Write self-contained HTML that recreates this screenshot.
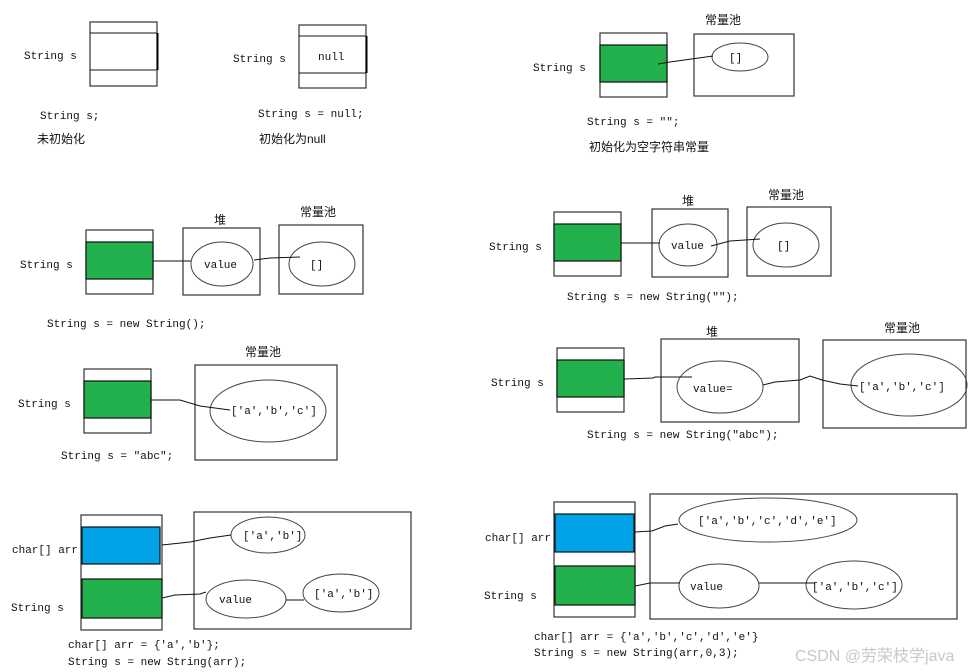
<!DOCTYPE html>
<html><head><meta charset="utf-8"><style>
html,body{margin:0;padding:0;background:#fff;}
svg{display:block;}
text{font-family:"Liberation Mono","Noto Sans CJK SC",monospace;font-size:11px;fill:#111;}
.c{font-family:"Liberation Sans","Noto Sans CJK SC",sans-serif;font-size:12px;}
.b{fill:none;stroke:#333;stroke-width:1.2;}
.l{fill:none;stroke:#111;stroke-width:1;}
.g{fill:#22b14c;stroke:#111;stroke-width:1.2;}
.u{fill:#00a2e8;stroke:#111;stroke-width:1.2;}
.e{fill:none;stroke:#444;stroke-width:1;}
</style></head><body>
<svg width="976" height="672" viewBox="0 0 976 672" xmlns="http://www.w3.org/2000/svg">
<!-- 1 -->
<rect class="b" x="90" y="22" width="67" height="64"/>
<line class="l" x1="90" y1="33" x2="157" y2="33"/><line class="l" x1="90" y1="70" x2="157" y2="70"/>
<line x1="157.5" y1="33" x2="157.5" y2="70" stroke="#000" stroke-width="2"/>
<text x="24" y="59">String s</text>
<text x="40" y="119">String s;</text>
<text class="c" x="37" y="143">未初始化</text>
<!-- 2 -->
<rect class="b" x="299" y="25" width="67" height="63"/>
<line class="l" x1="299" y1="36" x2="366" y2="36"/><line class="l" x1="299" y1="73" x2="366" y2="73"/>
<line x1="366.5" y1="36" x2="366.5" y2="73" stroke="#000" stroke-width="2"/>
<text x="318" y="60">null</text>
<text x="233" y="62">String s</text>
<text x="258" y="117">String s = null;</text>
<text class="c" x="259" y="143">初始化为null</text>
<!-- 3 -->
<rect class="b" x="600" y="33" width="67" height="64"/>
<rect class="g" x="600" y="45" width="67" height="37"/>
<text x="533" y="71">String s</text>
<rect class="b" x="694" y="34" width="100" height="62"/>
<text class="c" x="705" y="24">常量池</text>
<ellipse class="e" cx="740" cy="57" rx="28" ry="14"/>
<text x="729" y="61">[]</text>
<polyline class="l" points="658,64 670,62 713,56"/>
<text x="587" y="125">String s = "";</text>
<text class="c" x="589" y="151">初始化为空字符串常量</text>
<!-- 4 -->
<rect class="b" x="86" y="230" width="67" height="64"/>
<rect class="g" x="86" y="242" width="67" height="37"/>
<text x="20" y="268">String s</text>
<rect class="b" x="183" y="228" width="77" height="67"/>
<text class="c" x="214" y="224">堆</text>
<ellipse class="e" cx="222" cy="264" rx="31" ry="22"/>
<text x="204" y="268">value</text>
<rect class="b" x="279" y="225" width="84" height="69"/>
<text class="c" x="300" y="216">常量池</text>
<ellipse class="e" cx="322" cy="264" rx="33" ry="22"/>
<text x="310" y="268">[]</text>
<line class="l" x1="153" y1="261" x2="191" y2="261"/>
<polyline class="l" points="254,260 270,258 300,257"/>
<text x="47" y="327">String s = new String();</text>
<!-- 5 -->
<rect class="b" x="554" y="212" width="67" height="64"/>
<rect class="g" x="554" y="224" width="67" height="37"/>
<text x="489" y="250">String s</text>
<rect class="b" x="652" y="209" width="76" height="68"/>
<text class="c" x="682" y="205">堆</text>
<ellipse class="e" cx="688" cy="245" rx="29" ry="21"/>
<text x="671" y="249">value</text>
<rect class="b" x="747" y="207" width="84" height="69"/>
<text class="c" x="768" y="199">常量池</text>
<ellipse class="e" cx="786" cy="245" rx="33" ry="22"/>
<text x="777" y="249">[]</text>
<line class="l" x1="621" y1="243" x2="660" y2="243"/>
<polyline class="l" points="711,246 730,241 760,239"/>
<text x="567" y="300">String s = new String("");</text>
<!-- 6 -->
<rect class="b" x="84" y="369" width="67" height="64"/>
<rect class="g" x="84" y="381" width="67" height="37"/>
<text x="18" y="407">String s</text>
<rect class="b" x="195" y="365" width="142" height="95"/>
<text class="c" x="245" y="356">常量池</text>
<ellipse class="e" cx="268" cy="411" rx="58" ry="31"/>
<text x="231" y="414">['a','b','c']</text>
<polyline class="l" points="151,400 180,400 200,406 230,410"/>
<text x="61" y="459">String s = "abc";</text>
<!-- 7 -->
<rect class="b" x="557" y="348" width="67" height="64"/>
<rect class="g" x="557" y="360" width="67" height="37"/>
<text x="491" y="386">String s</text>
<rect class="b" x="661" y="339" width="138" height="83"/>
<text class="c" x="706" y="336">堆</text>
<ellipse class="e" cx="720" cy="387" rx="43" ry="26"/>
<text x="693" y="392">value=</text>
<rect class="b" x="823" y="340" width="143" height="88"/>
<text class="c" x="884" y="332">常量池</text>
<ellipse class="e" cx="909" cy="385" rx="58" ry="31"/>
<text x="859" y="390">['a','b','c']</text>
<polyline class="l" points="624,379 653,378 655,377 692,377"/>
<polyline class="l" points="763,385 775,382 800,380 810,376 822,380 840,384 858,386"/>
<text x="587" y="438">String s = new String("abc");</text>
<!-- 8 -->
<rect class="b" x="81" y="515" width="81" height="115"/>
<rect class="u" x="82" y="527" width="78" height="37"/>
<rect class="g" x="82" y="579" width="80" height="39"/>
<text x="12" y="553">char[] arr</text>
<text x="11" y="611">String s</text>
<rect class="b" x="194" y="512" width="217" height="117"/>
<ellipse class="e" cx="268" cy="535" rx="37" ry="18"/>
<text x="243" y="539">['a','b']</text>
<ellipse class="e" cx="246" cy="599" rx="40" ry="19"/>
<text x="219" y="603">value</text>
<ellipse class="e" cx="341" cy="593" rx="38" ry="19"/>
<text x="314" y="597">['a','b']</text>
<polyline class="l" points="162,545 190,542 210,538 231,535"/>
<polyline class="l" points="162,598 175,595 200,594 206,592"/>
<line class="l" x1="286" y1="600" x2="304" y2="600"/>
<text x="68" y="648">char[] arr = {'a','b'};</text>
<text x="68" y="665">String s = new String(arr);</text>
<!-- 9 -->
<rect class="b" x="554" y="502" width="81" height="115"/>
<rect class="u" x="555" y="514" width="79" height="38"/>
<rect class="g" x="555" y="566" width="80" height="39"/>
<text x="485" y="541">char[] arr</text>
<text x="484" y="599">String s</text>
<rect class="b" x="650" y="494" width="307" height="125"/>
<ellipse class="e" cx="768" cy="520" rx="89" ry="22"/>
<text x="698" y="524">['a','b','c','d','e']</text>
<ellipse class="e" cx="719" cy="586" rx="40" ry="22"/>
<text x="690" y="590">value</text>
<ellipse class="e" cx="854" cy="585" rx="48" ry="24"/>
<text x="812" y="590">['a','b','c']</text>
<polyline class="l" points="635,532 652,531 665,526 678,524"/>
<polyline class="l" points="635,586 650,583 680,583"/>
<line class="l" x1="759" y1="583" x2="815" y2="583"/>
<text x="534" y="640">char[] arr = {'a','b','c','d','e'}</text>
<text x="534" y="656">String s = new String(arr,0,3);</text>
<text x="795" y="661" style="font-family:'Liberation Sans','Noto Sans CJK SC',sans-serif;font-size:16px;fill:#c8c8c8;">CSDN @劳荣枝学java</text>
</svg>
</body></html>
